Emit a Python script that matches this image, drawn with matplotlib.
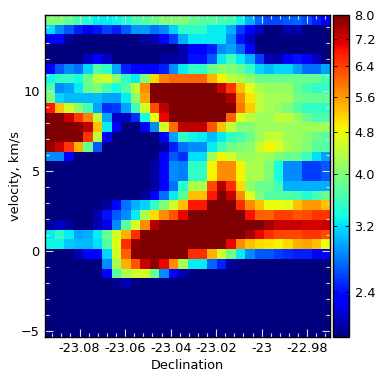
#!/usr/bin/env python3
"""Position-velocity map, declination against velocity, log colour scale."""

import matplotlib
matplotlib.use("Agg")
import matplotlib.pyplot as plt
import numpy as np
from matplotlib.colors import LogNorm
from matplotlib.ticker import MultipleLocator

dec_range = [-23.0954, -22.9700]
vel_range = [-5.40, 14.75]
dec_ticks = [-23.08, -23.06, -23.04, -23.02, -23.0, -22.98]
dec_labels = ["-23.08", "-23.06", "-23.04", "-23.02", "-23", "-22.98"]
vel_ticks = [-5, 0, 5, 10]
cbar_ticks = [2.4, 3.2, 4.0, 4.8, 5.6, 6.4, 7.2, 8.0]
cbar_labels = ["2.4", "3.2", "4.0", "4.8", "5.6", "6.4", "7.2", "8.0"]

# rows from the top of the map down, each row left to right
intensity = [
    [4.0, 4.0, 3.8, 3.6, 3.4, 3.25, 3.25, 3.3, 3.4, 3.6, 3.7, 3.8, 4.0, 4.0, 4.0, 3.8, 3.7, 3.7, 3.6, 3.6, 3.3, 3.0, 2.7, 2.6, 2.6, 2.65, 2.7, 2.6, 2.45, 2.3],
    [3.2, 2.85, 2.65, 2.45, 2.3, 2.4, 2.55, 2.45, 2.65, 2.9, 2.9, 2.75, 2.85, 3.15, 3.45, 3.5, 3.5, 3.25, 3.25, 3.0, 2.55, 2.3, 2.15, 1.95, 1.95, 2.1, 2.1, 1.95, 1.95, 1.95],
    [2.3, 2.3, 2.05, 1.95, 1.95, 1.95, 1.95, 1.95, 1.95, 1.95, 2.05, 2.1, 2.3, 2.55, 3.0, 3.25, 3.25, 3.25, 3.25, 2.85, 2.4, 2.15, 1.95, 1.95, 1.95, 1.95, 1.95, 1.95, 1.95, 1.95],
    [1.95, 1.95, 1.95, 1.95, 1.95, 1.95, 1.95, 1.95, 1.95, 1.95, 1.95, 1.95, 1.95, 1.95, 2.1, 2.3, 2.3, 2.45, 2.85, 2.95, 2.7, 2.3, 1.95, 1.95, 1.95, 1.95, 1.95, 1.95, 1.95, 1.95],
    [1.95, 1.95, 1.95, 1.95, 2.15, 2.3, 2.15, 1.95, 1.95, 1.95, 1.95, 1.95, 2.05, 2.05, 2.1, 2.4, 2.4, 2.65, 3.25, 3.6, 3.25, 3.0, 2.55, 2.1, 2.1, 2.3, 2.4, 2.3, 2.15, 1.95],
    [2.35, 2.65, 2.85, 2.75, 3.15, 3.7, 3.5, 2.95, 2.45, 2.35, 2.3, 2.3, 2.45, 2.85, 3.25, 3.5, 3.5, 3.85, 4.1, 4.0, 3.85, 3.5, 3.15, 3.05, 3.15, 3.15, 2.95, 2.75, 2.75, 2.95],
    [3.3, 3.5, 3.5, 3.35, 3.85, 4.45, 4.6, 4.1, 3.5, 3.25, 4.0, 5.1, 5.8, 6.05, 6.05, 6.05, 6.05, 5.4, 4.9, 4.45, 4.3, 4.1, 3.85, 3.85, 3.85, 3.85, 3.85, 3.85, 3.85, 3.6],
    [3.7, 2.85, 2.95, 3.25, 3.85, 4.0, 3.6, 3.35, 3.7, 4.45, 5.7, 8.0, 8.0, 8.0, 8.0, 8.0, 8.0, 8.0, 7.3, 6.5, 5.3, 4.7, 4.3, 4.15, 4.15, 4.15, 3.8, 3.6, 3.5, 3.5],
    [4.0, 3.15, 3.05, 3.05, 3.05, 3.05, 2.95, 2.95, 3.25, 4.1, 5.5, 8.0, 8.0, 8.0, 8.0, 8.0, 8.0, 8.0, 8.0, 7.5, 5.7, 5.0, 4.45, 4.25, 4.25, 4.25, 3.9, 3.85, 3.8, 3.8],
    [6.8, 5.3, 4.6, 4.1, 3.6, 2.95, 2.5, 2.55, 2.95, 3.6, 4.6, 6.3, 7.4, 8.0, 8.0, 8.0, 8.0, 8.0, 8.0, 8.0, 5.9, 5.2, 4.45, 4.25, 4.15, 3.95, 3.7, 3.5, 3.5, 3.5],
    [8.0, 8.0, 7.3, 6.5, 5.8, 4.45, 2.95, 2.15, 2.15, 2.5, 3.35, 4.8, 7.0, 8.0, 8.0, 8.0, 8.0, 8.0, 8.0, 6.1, 4.7, 4.4, 4.2, 4.2, 4.45, 4.45, 4.2, 3.85, 3.65, 3.65],
    [8.0, 8.0, 8.0, 7.9, 7.4, 5.3, 3.25, 2.3, 1.95, 1.95, 2.3, 2.85, 4.6, 6.0, 7.4, 7.4, 7.4, 6.2, 5.3, 4.5, 4.05, 4.05, 4.2, 4.2, 4.2, 4.2, 4.2, 4.2, 4.2, 4.2],
    [8.0, 8.0, 8.0, 8.0, 6.5, 4.45, 2.3, 1.95, 1.95, 1.95, 1.95, 1.95, 2.3, 2.95, 3.5, 3.3, 3.25, 3.05, 3.25, 3.5, 3.6, 3.85, 4.2, 4.5, 4.5, 4.2, 4.2, 4.05, 3.85, 3.75],
    [7.7, 7.3, 6.5, 5.4, 3.85, 2.65, 1.95, 1.95, 1.95, 1.95, 1.95, 1.95, 2.05, 2.45, 2.75, 2.85, 2.85, 3.25, 3.6, 3.9, 4.0, 4.05, 4.5, 4.9, 4.65, 4.3, 4.15, 4.0, 3.75, 3.7],
    [2.85, 2.85, 2.3, 1.95, 1.95, 1.95, 1.95, 1.95, 1.95, 1.95, 1.95, 1.95, 2.3, 2.65, 2.5, 3.2, 3.2, 4.2, 4.9, 4.6, 4.2, 4.2, 4.3, 4.2, 4.0, 3.85, 3.85, 3.55, 3.2, 2.95],
    [1.95, 1.95, 1.95, 1.95, 1.95, 1.95, 1.95, 1.95, 1.95, 1.95, 1.95, 2.05, 2.35, 2.85, 2.8, 3.5, 3.5, 4.9, 5.7, 5.7, 4.9, 4.3, 4.3, 4.0, 3.35, 2.85, 2.85, 2.55, 2.55, 2.65],
    [1.95, 1.95, 1.95, 1.95, 1.95, 1.95, 1.95, 1.95, 1.95, 1.95, 1.95, 2.05, 2.35, 2.85, 2.8, 3.5, 3.5, 4.9, 5.7, 5.7, 4.9, 4.3, 4.3, 4.0, 3.35, 2.85, 2.85, 2.55, 2.55, 2.65],
    [1.95, 1.95, 1.95, 1.95, 1.95, 1.95, 1.95, 1.95, 1.95, 1.95, 1.95, 2.05, 2.35, 2.75, 3.45, 4.3, 4.3, 6.3, 7.5, 6.6, 5.1, 4.1, 3.85, 3.85, 3.6, 3.0, 3.0, 3.0, 3.0, 3.0],
    [1.95, 1.95, 1.95, 1.95, 1.95, 1.95, 1.95, 1.95, 1.95, 1.95, 2.05, 2.3, 2.75, 3.25, 3.75, 5.3, 5.3, 6.8, 8.0, 7.3, 5.7, 4.7, 4.0, 3.7, 3.7, 3.7, 3.6, 3.4, 3.6, 3.85],
    [1.95, 1.95, 1.95, 1.95, 1.95, 1.95, 2.05, 2.3, 2.75, 3.0, 3.15, 3.5, 4.0, 4.6, 5.3, 6.8, 6.8, 8.0, 8.0, 8.0, 6.6, 5.7, 5.3, 4.8, 4.8, 4.7, 5.3, 5.6, 5.6, 5.3],
    [1.95, 1.95, 1.95, 1.95, 1.95, 2.1, 2.4, 2.65, 2.85, 3.25, 4.3, 5.1, 5.7, 6.2, 7.0, 8.0, 8.0, 8.0, 8.0, 8.0, 8.0, 6.9, 6.1, 6.1, 6.4, 6.4, 6.2, 6.3, 6.5, 6.5],
    [2.05, 2.15, 2.05, 1.95, 1.95, 2.1, 2.25, 2.85, 3.75, 4.6, 5.7, 7.5, 8.0, 8.0, 8.0, 8.0, 8.0, 8.0, 8.0, 8.0, 8.0, 8.0, 8.0, 7.6, 7.3, 7.3, 7.3, 7.2, 7.2, 7.3],
    [3.25, 3.5, 3.25, 2.95, 3.0, 3.25, 3.85, 4.6, 5.4, 6.6, 8.0, 8.0, 8.0, 8.0, 8.0, 8.0, 8.0, 8.0, 8.0, 8.0, 8.0, 7.6, 7.0, 6.6, 6.35, 6.35, 6.35, 6.5, 6.5, 6.3],
    [3.3, 3.3, 3.1, 3.05, 3.05, 3.2, 3.7, 4.7, 6.6, 7.8, 8.0, 8.0, 8.0, 8.0, 8.0, 8.0, 8.0, 8.0, 8.0, 7.0, 5.7, 5.3, 5.1, 5.0, 4.9, 5.1, 5.4, 5.5, 5.3, 4.8],
    [1.95, 1.95, 1.95, 2.1, 2.3, 2.35, 3.15, 4.6, 6.1, 7.9, 8.0, 8.0, 8.0, 8.0, 8.0, 6.6, 6.6, 5.4, 4.6, 3.9, 3.25, 2.85, 2.65, 2.65, 2.55, 2.5, 2.45, 2.45, 2.3, 2.3],
    [1.95, 1.95, 1.95, 1.95, 1.95, 1.95, 2.85, 4.3, 5.4, 6.2, 7.3, 7.8, 7.0, 5.7, 4.3, 3.25, 3.25, 2.7, 2.45, 2.05, 1.95, 1.95, 1.95, 1.95, 1.95, 1.95, 1.95, 1.95, 1.95, 1.95],
    [1.95, 1.95, 1.95, 1.95, 1.95, 1.95, 2.35, 3.7, 4.3, 4.6, 4.6, 3.85, 2.85, 2.35, 2.1, 1.95, 1.95, 1.95, 1.95, 1.95, 1.95, 1.95, 1.95, 1.95, 1.95, 1.95, 1.95, 1.95, 1.95, 1.95],
    [1.95, 1.95, 1.95, 1.95, 1.95, 1.95, 1.95, 2.0, 2.1, 1.95, 1.95, 1.95, 1.95, 1.95, 1.95, 1.95, 1.95, 1.95, 1.95, 1.95, 1.95, 1.95, 1.95, 1.95, 1.95, 1.95, 1.95, 1.95, 1.95, 1.95],
    [1.95, 1.95, 1.95, 1.95, 1.95, 1.95, 1.95, 1.95, 1.95, 1.95, 1.95, 1.95, 1.95, 1.95, 1.95, 1.95, 1.95, 1.95, 1.95, 1.95, 1.95, 1.95, 1.95, 1.95, 1.95, 1.95, 1.95, 1.95, 1.95, 1.95],
    [1.95, 1.95, 1.95, 1.95, 1.95, 1.95, 1.95, 1.95, 1.95, 1.95, 1.95, 1.95, 1.95, 1.95, 1.95, 1.95, 1.95, 1.95, 1.95, 1.95, 1.95, 1.95, 1.95, 1.95, 1.95, 1.95, 1.95, 1.95, 1.95, 1.95],
    [1.95, 1.95, 1.95, 1.95, 1.95, 1.95, 1.95, 1.95, 1.95, 1.95, 1.95, 1.95, 1.95, 1.95, 1.95, 1.95, 1.95, 1.95, 1.95, 1.95, 1.95, 1.95, 1.95, 1.95, 1.95, 1.95, 1.95, 1.95, 1.95, 1.95],
    [1.95, 1.95, 1.95, 1.95, 1.95, 1.95, 1.95, 1.95, 1.95, 1.95, 1.95, 1.95, 1.95, 1.95, 1.95, 1.95, 1.95, 1.95, 1.95, 1.95, 1.95, 1.95, 1.95, 1.95, 1.95, 1.95, 1.95, 1.95, 1.95, 1.95],
    [1.95, 1.95, 1.95, 1.95, 1.95, 1.95, 1.95, 1.95, 1.95, 1.95, 1.95, 1.95, 1.95, 1.95, 1.95, 1.95, 1.95, 1.95, 1.95, 1.95, 1.95, 1.95, 1.95, 1.95, 1.95, 1.95, 1.95, 1.95, 1.95, 1.95],
]


def main():
    fig = plt.figure(figsize=(3.81, 3.81), dpi=100)
    ax = fig.add_axes([44.5 / 381, 44 / 381, 285.5 / 381, 322 / 381])
    cax = fig.add_axes([333 / 381, 44 / 381, 16 / 381, 322 / 381])

    im = ax.imshow(np.array(intensity), cmap="jet", norm=LogNorm(vmin=1.97, vmax=8.0),
                   extent=[dec_range[0], dec_range[1], vel_range[0], vel_range[1]],
                   aspect="auto", interpolation="nearest")

    ax.set_xticks(dec_ticks)
    ax.set_xticklabels(dec_labels, fontsize=9.3)
    ax.set_yticks(vel_ticks)
    ax.tick_params(axis="y", labelsize=9.3)
    ax.xaxis.set_minor_locator(MultipleLocator(0.004))
    ax.yaxis.set_minor_locator(MultipleLocator(1))
    ax.tick_params(which="major", direction="in", length=5.5, width=0.8, color="#dddddd",
                   top=True, right=True, pad=3.5)
    ax.tick_params(which="minor", direction="in", length=3, width=0.8, color="#dddddd",
                   top=True, right=True)
    ax.set_xlabel("Declination", fontsize=9.3, labelpad=3)
    ax.set_ylabel("velocity, km/s", fontsize=9.3, labelpad=-1)
    for spine in ax.spines.values():
        spine.set_linewidth(1.0)

    cb = fig.colorbar(im, cax=cax)
    cb.set_ticks(cbar_ticks, labels=cbar_labels)
    cb.ax.minorticks_off()
    cb.ax.tick_params(direction="in", length=3, width=0.6, left=True, right=True,
                      labelsize=9.3, pad=4)
    cb.outline.set_linewidth(1.0)

    fig.savefig("out.png", dpi=100)
    plt.close(fig)


if __name__ == "__main__":
    main()
